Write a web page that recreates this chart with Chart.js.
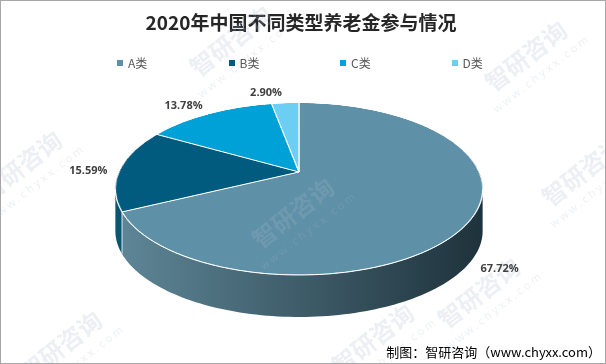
<!DOCTYPE html>
<html>
<head>
<meta charset="utf-8">
<script src="https://cdn.jsdelivr.net/npm/chart.js@4.4.1/dist/chart.umd.min.js"></script>
<style>
  html, body { margin: 0; padding: 0; background: #fff; }
  #wrap { position: relative; width: 606px; height: 364px; box-sizing: border-box; border: 1px solid #a6a6a6; }
  #pie { display: block; }
  #legend { position: absolute; left: 116px; top: 54px; display: flex; font: 12px 'Noto Sans CJK SC', sans-serif; line-height: 16px; color: #595959; }
  .item { width: 111.5px; display: flex; align-items: center; }
  .box { width: 6px; height: 6px; margin-right: 5px; }
</style>
</head>
<body>
<div id="wrap">
  <canvas id="pie" width="604" height="362"></canvas>
  <div id="legend"></div>
</div>
<script>
// 数据
const categories = ['A类', 'B类', 'C类', 'D类'];
const shares = [67.72, 15.59, 13.78, 2.90];

// 样式
const colors = ['#5e91a7', '#005b7e', '#00a1d7', '#6dcef4'];
const sideColors = [['#5f8798', '#1e323b'], ['#0a5572', '#002c3d'], ['#00789f', '#004c66'], ['#4fa9c9', '#2e7590']];
// 透视: 中心点、前后压缩、宽度、厚度
const X0 = 298, Y0 = 171, PC = -0.198, PA = 82.6, PK = 180, DEPTH = 42;
const R0 = 200;

// 图例 (HTML)
const legend = document.getElementById('legend');
categories.forEach((c, i) => {
  const item = document.createElement('div');
  item.className = 'item';
  item.innerHTML = '<span class="box" style="background:' + colors[i] + '"></span>' + c;
  legend.appendChild(item);
});

// 圆上角度 -> 画面坐标
function proj(t) {
  const d = 1 + PC * Math.sin(t);
  return [X0 + PK * Math.cos(t) / d, Y0 + PA * Math.sin(t) / d];
}
// 画面行 -> 圆上纵坐标
function vOf(y) {
  const d = y - Y0;
  return d / (PA - PC * d);
}

function sidePath(ctx, a, b) {
  const n = Math.max(8, Math.ceil((b - a) * 40));
  ctx.beginPath();
  for (let k = 0; k <= n; k++) {
    const p = proj(a + (b - a) * k / n);
    k ? ctx.lineTo(p[0], p[1]) : ctx.moveTo(p[0], p[1]);
  }
  for (let k = n; k >= 0; k--) {
    const p = proj(a + (b - a) * k / n);
    ctx.lineTo(p[0], p[1] + DEPTH);
  }
  ctx.closePath();
}

const pie3d = {
  id: 'pie3d',
  beforeDatasetsDraw(chart) {
    const ctx = chart.ctx;
    const arcs = chart.getDatasetMeta(0).data;
    const tL = Math.asin(-PC), tR = Math.PI - tL;
    const left = proj(tR)[0], right = proj(tL)[0];

    // 侧面
    arcs.forEach((arc, i) => {
      const a = Math.max(arc.startAngle, tL);
      const b = Math.min(arc.endAngle, tR);
      if (b <= a) return;
      const g = ctx.createLinearGradient(left, 0, right, 0);
      g.addColorStop(0, sideColors[i][0]);
      g.addColorStop(1, sideColors[i][1]);
      ctx.save();
      sidePath(ctx, a, b);
      ctx.fillStyle = g;
      ctx.fill();
      ctx.restore();
    });
    ctx.save();
    ctx.strokeStyle = 'rgba(255,255,255,0.85)';
    ctx.lineWidth = 1;
    arcs.forEach(arc => {
      const t = arc.endAngle;
      if (t > tL && t < tR) {
        const p = proj(t);
        ctx.beginPath();
        ctx.moveTo(p[0], p[1]);
        ctx.lineTo(p[0], p[1] + DEPTH);
        ctx.stroke();
      }
    });
    ctx.restore();

    // 顶面: 扇形先画在平面缓冲上, 再按透视逐行贴回
    const off = document.createElement('canvas');
    off.width = off.height = 2 * R0;
    const o = off.getContext('2d');
    const r = arcs[0].outerRadius;
    o.translate(R0, R0);
    o.scale(R0 / r, R0 / r);
    o.translate(-arcs[0].x, -arcs[0].y);
    arcs.forEach(arc => arc.draw(o));

    const yTop = Y0 - PA / (1 - PC), yBot = Y0 + PA / (1 + PC);
    ctx.save();
    ctx.imageSmoothingEnabled = true;
    for (let y = Math.floor(yTop); y < Math.ceil(yBot); y++) {
      const v0 = Math.max(-1, vOf(y)), v1 = Math.min(1, vOf(y + 1));
      if (v1 <= v0) continue;
      const s = PK / (1 + PC * (v0 + v1) / 2);
      ctx.drawImage(off, 0, R0 + v0 * R0, 2 * R0, (v1 - v0) * R0, X0 - s, y, 2 * s, 1);
    }

    // 白色分界线
    ctx.strokeStyle = '#ffffff';
    ctx.lineWidth = 1;
    arcs.forEach(arc => {
      const p = proj(arc.startAngle);
      ctx.beginPath();
      ctx.moveTo(X0, Y0);
      ctx.lineTo(p[0], p[1]);
      ctx.stroke();
    });
    ctx.beginPath();
    for (let k = 0; k <= 120; k++) {
      const p = proj(tL + (tR - tL) * k / 120);
      k ? ctx.lineTo(p[0], p[1]) : ctx.moveTo(p[0], p[1]);
    }
    ctx.stroke();
    ctx.restore();
    return false;
  }
};

// 水印
const watermark = {
  id: 'watermark',
  afterDraw(chart) {
    const ctx = chart.ctx;
    const spots = [[230, 40], [525, 55], [20, 165], [292, 212], [582, 170], [60, 345], [372, 338], [478, 292]];
    spots.forEach(([x, y]) => {
      ctx.save();
      ctx.translate(x, y);
      ctx.rotate(-38 * Math.PI / 180);
      ctx.textAlign = 'center';
      ctx.textBaseline = 'middle';
      ctx.fillStyle = 'rgba(170,182,200,0.22)';
      ctx.font = 'bold 24px "Noto Sans CJK SC"';
      ctx.fillText('智研咨询', 0, 0);
      ctx.font = '11px "Open Sans"';
      ctx.fillText('w w w . c h y x x . c o m', 0, 24);
      ctx.restore();
    });
  }
};

// 百分比标签
const pctLabels = {
  id: 'pctLabels',
  afterDraw(chart) {
    const ctx = chart.ctx;
    ctx.save();
    ctx.font = 'bold 11px "Open Sans"';
    ctx.fillStyle = '#404040';
    ctx.textAlign = 'center';
    ctx.textBaseline = 'middle';
    chart.getDatasetMeta(0).data.forEach((arc, i) => {
      const mid = (arc.startAngle + arc.endAngle) / 2;
      const c = Math.cos(mid), s = Math.sin(mid);
      const p = proj(mid);
      const x = p[0] + 18 * Math.sign(c) + 14 * c;
      const y = p[1] + 12 * s + 2 + (s > 0 ? DEPTH - 2 : 0);
      ctx.fillText(shares[i].toFixed(2) + '%', x, y);
    });
    ctx.restore();
  }
};

Chart.defaults.font.family = "'Noto Sans CJK SC', 'Open Sans', sans-serif";

new Chart(document.getElementById('pie'), {
  type: 'pie',
  data: {
    labels: categories,
    datasets: [{
      data: shares,
      backgroundColor: colors,
      borderColor: '#ffffff',
      borderWidth: 0.5,
      clip: false
    }]
  },
  options: {
    responsive: false,
    animation: false,
    events: [],
    layout: { padding: { right: 4 } },
    plugins: {
      legend: { display: false },
      tooltip: { enabled: false },
      title: {
        display: true,
        text: '2020年中国不同类型养老金参与情况',
        color: '#262626',
        font: { size: 19, weight: 'bold' },
        padding: { top: 10, bottom: 40 }
      },
      subtitle: {
        display: true,
        position: 'bottom',
        align: 'end',
        text: '制图：智研咨询（www.chyxx.com）',
        color: '#000000',
        font: { size: 13 },
        padding: { top: 4, bottom: 3 }
      }
    }
  },
  plugins: [pie3d, watermark, pctLabels]
});
</script>
</body>
</html>
